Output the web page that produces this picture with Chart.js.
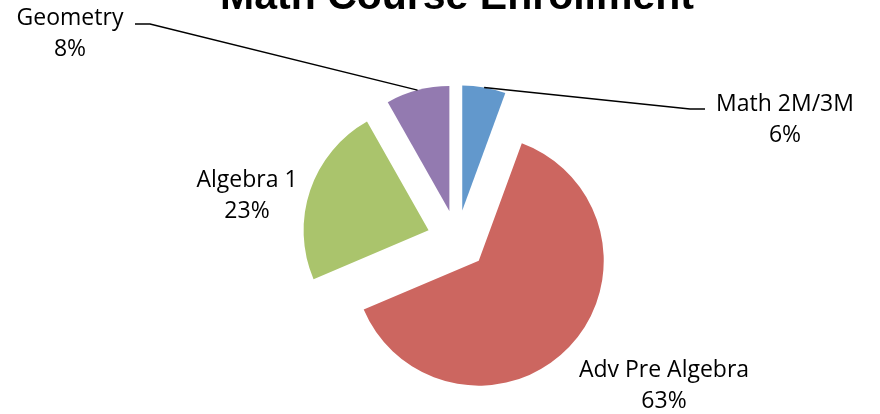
<!DOCTYPE html>
<html>
<head>
<meta charset="utf-8">
<script src="https://cdn.jsdelivr.net/npm/chart.js@4"></script>
<style>
  html, body { margin: 0; padding: 0; background: #fff; }
  #wrap { width: 880px; height: 414px; }
</style>
</head>
<body>
<div id="wrap"><canvas id="pie"></canvas></div>
<script>
var chartTitle = "Math Course Enrollment";
var courseNames = ["Math 2M/3M", "Adv Pre Algebra", "Algebra 1", "Geometry"];
var enrollmentPct = [5.6, 63.0, 23.2, 8.2];
var sliceColors = ["#6298CC", "#CC6660", "#AAC46C", "#937AB0"];

// label spots, relative to the pie centre (first baseline, text centred)
var labelSpots = [[328, -129], [207, 137], [-210, -53], [-387, -215]];
// leader line bends, relative to the pie centre (null = no leader)
var leaderBends = [[[233, -131], [248, -131]], null, null, [[-307, -216], [-322, -216]]];

var EXPLODE = 30;
var LABEL_FONT = "23px 'Open Sans'";
var LINE_GAP = 31;

// chart.js "offset" also grows small slices, so push every slice out by hand
var baseArcDraw = Chart.ArcElement.prototype.draw;
Chart.ArcElement.prototype.draw = function (ctx, area) {
  var mid = (this.startAngle + this.endAngle) / 2;
  ctx.save();
  ctx.translate(Math.cos(mid) * EXPLODE, Math.sin(mid) * EXPLODE);
  baseArcDraw.call(this, ctx, area);
  ctx.restore();
};

var pieLabels = {
  id: "pieLabels",
  afterDatasetsDraw: function (chart) {
    var ctx = chart.ctx;
    var arcs = chart.getDatasetMeta(0).data;
    var cx = arcs[0].x, cy = arcs[0].y;

    ctx.save();
    // title, mostly above the top edge like the original
    ctx.fillStyle = "#000";
    ctx.textAlign = "center";
    ctx.textBaseline = "alphabetic";
    ctx.font = "bold 41px 'Liberation Sans'";
    ctx.fillText(chartTitle, cx, 9);

    ctx.strokeStyle = "#000";
    ctx.lineWidth = 1.5;
    ctx.font = LABEL_FONT;
    for (let i = 0; i < arcs.length; i++) {
      var a = arcs[i];
      var mid = (a.startAngle + a.endAngle) / 2;
      var bends = leaderBends[i];
      if (bends) {
        var r = a.outerRadius + EXPLODE;
        ctx.beginPath();
        ctx.moveTo(cx + Math.cos(mid) * r, cy + Math.sin(mid) * r);
        bends.forEach(function (p) { ctx.lineTo(cx + p[0], cy + p[1]); });
        ctx.stroke();
      }
      var lx = cx + labelSpots[i][0], ly = cy + labelSpots[i][1];
      ctx.fillText(courseNames[i], lx, ly);
      ctx.fillText(Math.round(enrollmentPct[i]) + "%", lx, ly + LINE_GAP);
    }
    ctx.restore();
  }
};

new Chart(document.getElementById("pie"), {
  type: "pie",
  data: {
    labels: courseNames,
    datasets: [{
      data: enrollmentPct,
      backgroundColor: sliceColors,
      borderWidth: 0
    }]
  },
  options: {
    responsive: true,
    maintainAspectRatio: false,
    animation: false,
    radius: 125,
    layout: { padding: { left: 34, right: 0, top: 66, bottom: 0 } },
    plugins: {
      legend: { display: false },
      tooltip: { enabled: false }
    }
  },
  plugins: [pieLabels]
});
</script>
</body>
</html>
